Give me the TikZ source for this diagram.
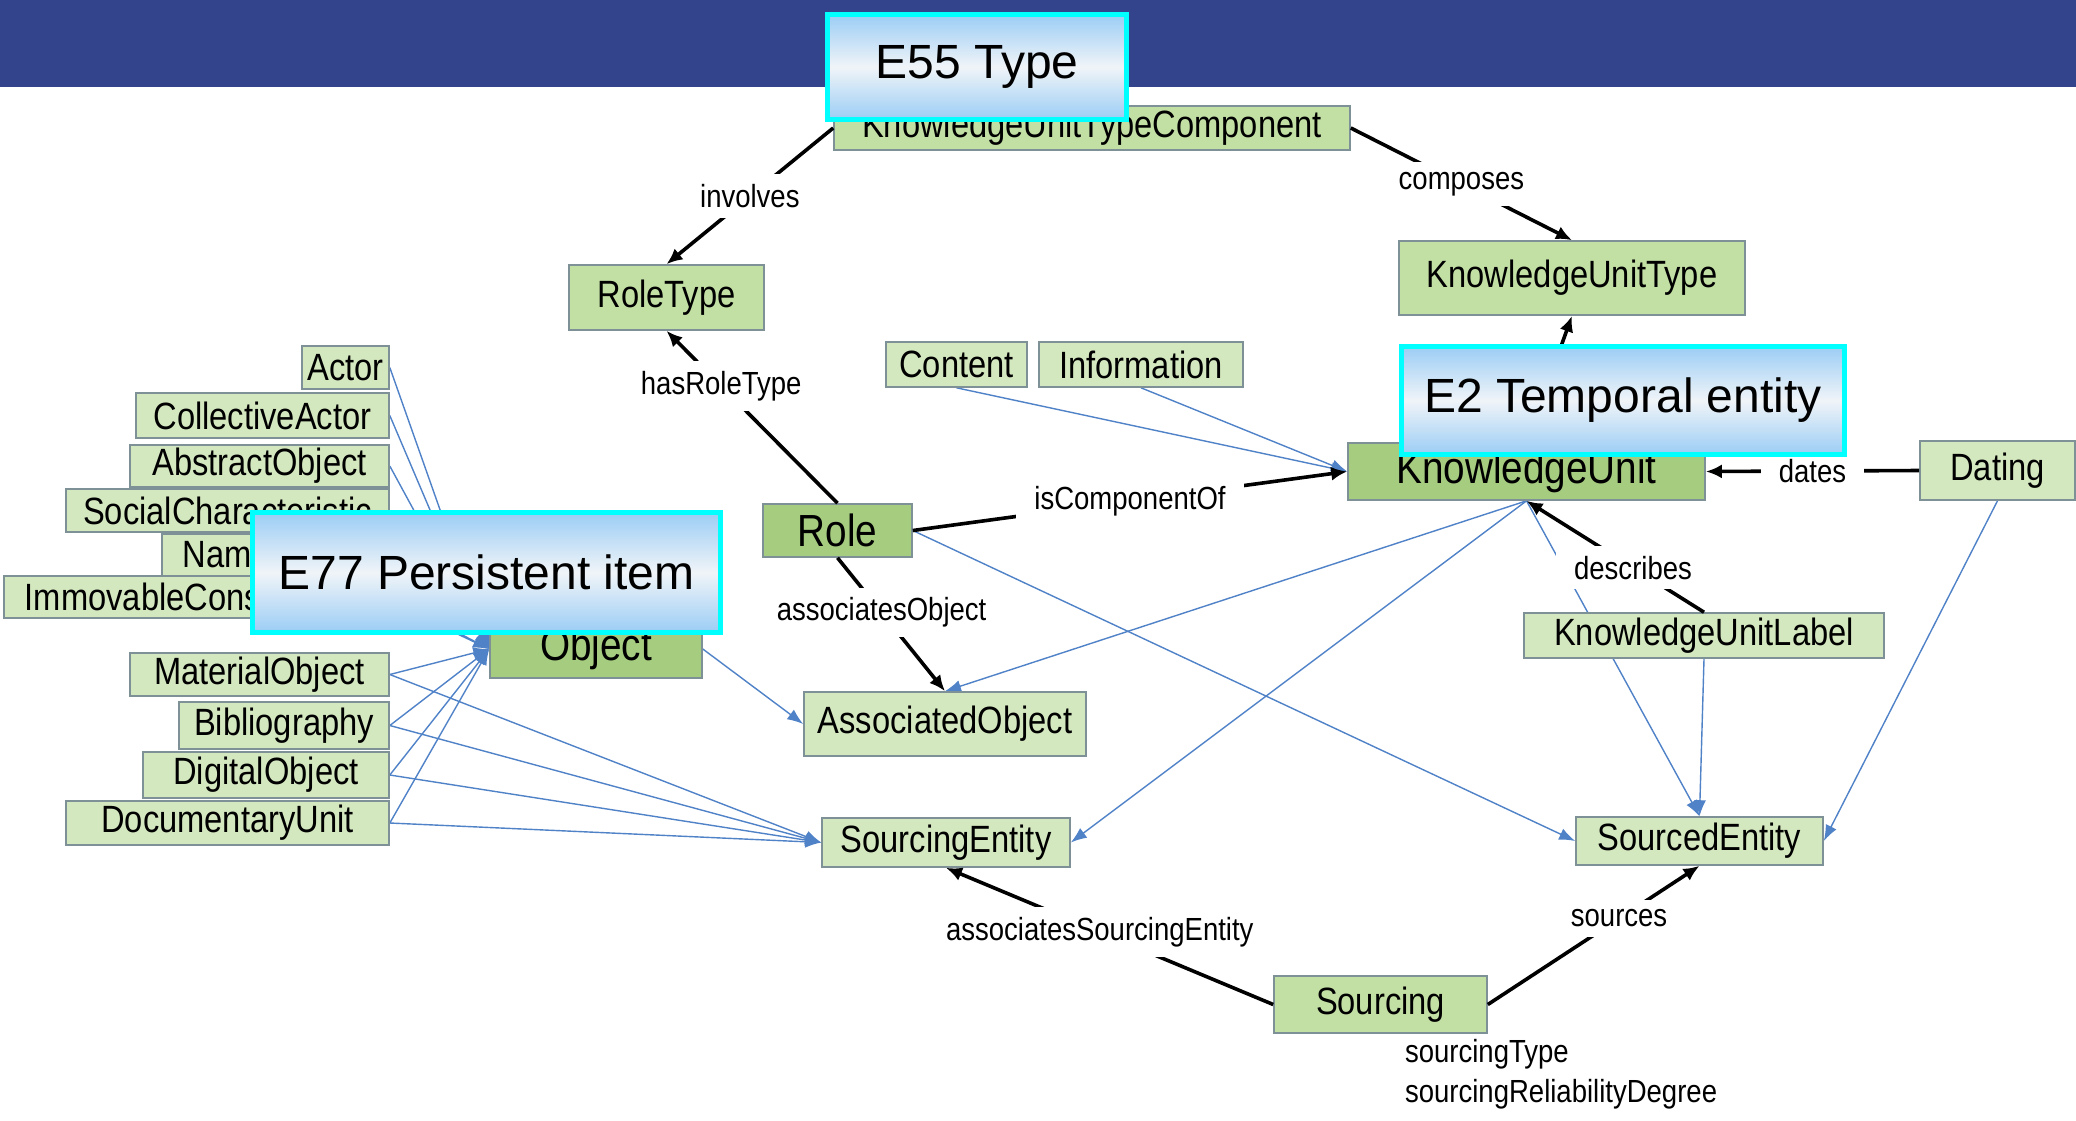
\documentclass[tikz,border=0pt]{standalone}
\usepackage{fontspec}
\setmainfont{Liberation Sans}
\newfontfamily\estrecha{Liberation Sans}[FakeStretch=0.86]
\usetikzlibrary{arrows.meta,backgrounds}
\definecolor{banda}{RGB}{52,68,140}
\definecolor{verdeclaro}{RGB}{212,232,192}
\definecolor{verdemedio}{RGB}{194,223,164}
\definecolor{verdeoscuro}{RGB}{166,204,128}
\definecolor{borde}{RGB}{125,145,150}
\definecolor{azulflecha}{RGB}{80,130,200}
\definecolor{celeste}{RGB}{155,205,245}
\definecolor{centro}{RGB}{240,244,248}
\definecolor{cian}{RGB}{0,255,255}
\tikzstyle{entidad} = [draw=borde, fill=verdeclaro, line width=0.8pt, rectangle, inner sep=0pt, font=\estrecha\fontsize{19}{22}\selectfont]
\tikzstyle{media} = [entidad, fill=verdemedio]
\tikzstyle{principal} = [entidad, fill=verdeoscuro, font=\estrecha\fontsize{22.5}{26}\selectfont]
\tikzstyle{etiqueta} = [fill=white, inner xsep=9pt, inner ysep=5pt, font=\estrecha\fontsize{16}{20}\selectfont]
\tikzstyle{relacion} = [draw=black, line width=1.8pt, -{Latex[length=8pt,width=7pt]}]
\tikzstyle{herencia} = [draw=azulflecha, line width=0.7pt, -{Latex[length=8pt,width=6pt]}]
\tikzstyle{crm} = [draw=cian, line width=2.5pt, top color=celeste, bottom color=celeste, middle color=centro, font=\fontsize{24}{28}\selectfont]

\begin{document}
\begin{tikzpicture}[x=0.5pt,y=-0.5pt]
		\useasboundingbox (0,0) rectangle (2076,1120);
		% clases
		\node[media, minimum width=258pt, minimum height=22pt] (KUTC) at (1092,128) {KnowledgeUnitTypeComponent};
		\node[media, minimum width=97.5pt, minimum height=32.5pt] (RoleType) at (666.5,297.5) {RoleType};
		\node[media, minimum width=173pt, minimum height=37pt] (KUT) at (1572,278) {KnowledgeUnitType};
		\node[entidad, minimum width=70.5pt, minimum height=22.5pt] (Content) at (956.5,364.5) {Content};
		\node[entidad, minimum width=102pt, minimum height=22.5pt] (Information) at (1141,364.5) {Information};
		\node[principal, minimum width=178.5pt, minimum height=28.5pt] (KU) at (1526.5,471.5) {KnowledgeUnit};
		\node[entidad, minimum width=77.5pt, minimum height=29.5pt] (Dating) at (1997.5,470.5) {Dating};
		\node[entidad, minimum width=43.5pt, minimum height=21.5pt] (Actor) at (345.5,367.5) {Actor};
		\node[entidad, minimum width=126.5pt, minimum height=22.5pt] (CollectiveActor) at (262.5,415.5) {CollectiveActor};
		\node[entidad, minimum width=129.5pt, minimum height=21pt] (AbstractObject) at (259.5,466) {AbstractObject};
		\node[entidad, minimum width=161.5pt, minimum height=21.5pt] (SocialCharacteristic) at (227.5,510.5) {SocialCharacteristic};
		\node[entidad, minimum width=64pt, minimum height=21pt] (Name) at (226,555) {Name};
		\node[entidad, minimum width=192.5pt, minimum height=21pt] (ImmovableConstruction) at (196.5,597) {ImmovableConstruction};
		\node[entidad, minimum width=129.5pt, minimum height=21.5pt] (MaterialObject) at (259.5,674.5) {MaterialObject};
		\node[entidad, minimum width=105pt, minimum height=23.5pt] (Bibliography) at (284,725.5) {Bibliography};
		\node[entidad, minimum width=123pt, minimum height=23pt] (DigitalObject) at (266,775) {DigitalObject};
		\node[entidad, minimum width=161.5pt, minimum height=22pt] (DocumentaryUnit) at (227.5,823) {DocumentaryUnit};
		\node[principal, minimum width=106pt, minimum height=29pt] (Object) at (596,649) {Object};
		\node[principal, minimum width=74.5pt, minimum height=26.5pt] (Role) at (837.5,530.5) {Role};
		\node[entidad, minimum width=141pt, minimum height=32pt] (AssociatedObject) at (945,724) {AssociatedObject};
		\node[entidad, minimum width=124pt, minimum height=24.5pt] (SourcingEntity) at (946,842.5) {SourcingEntity};
		\node[entidad, minimum width=180pt, minimum height=22.5pt] (KULabel) at (1704,635.5) {KnowledgeUnitLabel};
		\node[entidad, minimum width=123.5pt, minimum height=24pt] (SourcedEntity) at (1699.5,841) {SourcedEntity};
		\node[media, minimum width=106.5pt, minimum height=28.5pt] (Sourcing) at (1380.5,1004.5) {Sourcing};
		\node[anchor=west, align=left, font=\estrecha\fontsize{16}{20}\selectfont] (atributos) at (1398,1074) {sourcingType\\sourcingReliabilityDegree};
		
		\begin{scope}[on background layer]
			\fill[white] (0,0) rectangle (2076,1120);
			\fill[banda] (0,0) rectangle (2076,87);
			% subclases
			\draw[herencia] (Content.south) -- (KU.west);
			\draw[herencia] (Information.south) -- (KU.west);
			\draw[herencia] (Actor.east) -- (Object.west);
			\draw[herencia] (CollectiveActor.east) -- (Object.west);
			\draw[herencia] (AbstractObject.east) -- (Object.west);
			\draw[herencia] (SocialCharacteristic.east) -- (Object.west);
			\draw[herencia] (Name.east) -- (Object.west);
			\draw[herencia] (ImmovableConstruction.east) -- (Object.west);
			\draw[herencia] (MaterialObject.east) -- (Object.west);
			\draw[herencia] (Bibliography.east) -- (Object.west);
			\draw[herencia] (DigitalObject.east) -- (Object.west);
			\draw[herencia] (DocumentaryUnit.east) -- (Object.west);
			\draw[herencia] (MaterialObject.east) -- (SourcingEntity.west);
			\draw[herencia] (Bibliography.east) -- (SourcingEntity.west);
			\draw[herencia] (DigitalObject.east) -- (SourcingEntity.west);
			\draw[herencia] (DocumentaryUnit.east) -- (SourcingEntity.west);
			\draw[herencia] (Object.east) -- (AssociatedObject.west);
			\draw[herencia] (KU.south) -- (AssociatedObject.north);
			\draw[herencia] (KU.south) -- (SourcingEntity.east);
			\draw[herencia] (KU.south) -- (SourcedEntity.north);
			\draw[herencia] (Role.east) -- (SourcedEntity.west);
			\draw[herencia] (KULabel.south) -- (SourcedEntity.north);
			\draw[herencia] (Dating.south) -- (SourcedEntity.east);
		\end{scope}
		
		% propiedades
		\draw[relacion] (KUTC.west) -- (RoleType.north) node[etiqueta, midway] {involves};
		\draw[relacion] (KUTC.east) -- (KUT.north) node[etiqueta, midway] {composes};
		\draw[relacion] (KU.north) -- (KUT.south);
		\draw[relacion] (Role.north) -- (RoleType.south) node[etiqueta, pos=0.68] {hasRoleType};
		\draw[relacion] (Role.east) -- (KU.west) node[etiqueta, midway] {isComponentOf};
		\draw[relacion] (Dating.west) -- (KU.east) node[etiqueta, midway] {dates};
		\draw[relacion] (KULabel.north) -- (KU.south) node[etiqueta, pos=0.4] {describes};
		\draw[relacion] (Role.south) -- (AssociatedObject.north) node[etiqueta, pos=0.41] {associatesObject};
		\draw[relacion] (Sourcing.west) -- (SourcingEntity.south) node[etiqueta, pos=0.53] {associatesSourcingEntity};
		\draw[relacion] (Sourcing.east) -- (SourcedEntity.south) node[etiqueta, pos=0.62] {sources};
		
		% CIDOC CRM
		\node[crm, minimum width=149.5pt, minimum height=52.5pt] (E55) at (977,67) {E55 Type};
		\node[crm, minimum width=221.5pt, minimum height=54pt] (E2) at (1623,400.5) {E2 Temporal entity};
		\node[crm, minimum width=234pt, minimum height=60pt] (E77) at (486.5,572.5) {E77 Persistent item};
\end{tikzpicture}
\end{document}
